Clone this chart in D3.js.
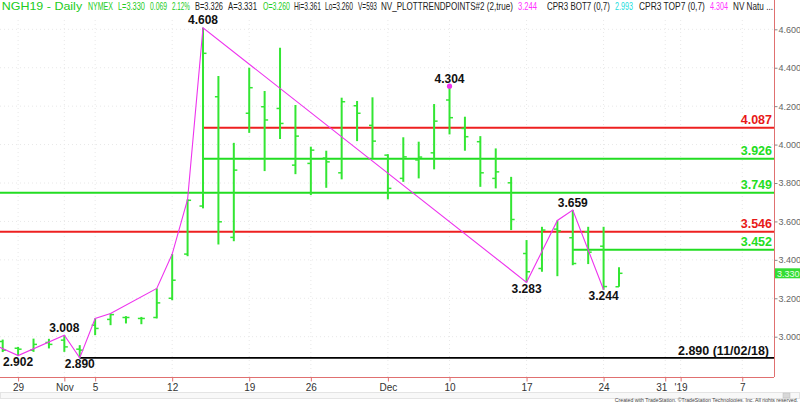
<!DOCTYPE html>
<html><head><meta charset="utf-8">
<script src="https://cdn.jsdelivr.net/npm/d3@7"></script>
<style>html,body{margin:0;padding:0;background:#fff;} svg{display:block;font-family:"Liberation Sans",Arial,sans-serif;}</style>
</head><body><svg id="c" width="800" height="402"></svg>
<script>
// ---- data ----
const dates = ["10/26","10/29","10/30","10/31","11/01","11/02","11/05","11/06","11/07","11/08","11/09",
  "11/12","11/13","11/14","11/15","11/16","11/19","11/20","11/21","11/23","11/26","11/27","11/28","11/29","11/30",
  "12/03","12/04","12/06","12/07","12/10","12/11","12/12","12/13","12/14","12/17","12/18","12/19","12/20","12/21","12/24","12/26"];
const openP  = [2.975,2.940,2.930,2.970,2.982,2.935,3.060,3.090,3.100,3.095,3.100,3.200,3.430,3.680,4.249,3.517,4.163,4.197,4.188,3.893,3.902,3.930,3.853,4.202,4.100,3.945,3.824,3.920,3.957,4.232,4.084,4.015,3.824,3.801,3.433,3.355,3.560,3.515,3.546,3.471,3.260];
const highP  = [2.985,2.947,2.990,2.989,3.008,2.956,3.095,3.121,3.107,3.103,3.251,3.430,3.715,4.608,4.357,4.009,4.400,4.279,4.504,4.206,3.989,3.968,4.244,4.227,4.246,3.950,4.038,4.015,4.211,4.304,4.145,4.044,3.980,3.832,3.503,3.572,3.605,3.659,3.572,3.572,3.361];
const lowP   = [2.920,2.902,2.921,2.939,2.921,2.890,3.008,3.060,3.069,3.065,3.095,3.190,3.419,3.668,3.480,3.497,4.061,3.862,4.029,3.846,3.737,3.775,3.819,4.018,3.928,3.715,3.806,3.824,3.871,4.053,3.968,3.780,3.772,3.555,3.283,3.338,3.315,3.372,3.378,3.244,3.260];
const closeP = [2.930,2.935,2.960,2.960,2.947,2.930,3.043,3.115,3.100,3.095,3.176,3.294,3.710,4.475,3.598,3.867,4.296,4.128,4.110,4.044,3.971,3.910,4.223,4.163,4.018,3.772,3.936,3.935,4.122,4.140,4.041,3.853,3.858,3.610,3.338,3.555,3.551,3.381,3.440,3.261,3.330];

// x-axis ticks (trading-day index incl. future days)
const tickIndex  = [1,4,6,11,16,20,25,29,34,39,43,44,48];
const tickLabels = ["29","Nov","5","12","19","26","Dec","10","17","24","31","'19","7"];
const priceTicks = [3.0,3.2,3.4,3.6,3.8,4.0,4.2,4.4,4.6];

// trend zigzag pivots
const pivotIndex = [-1,1,4,5,6,7,10,11,12,13,34,36,37,39];
const pivotValue = [2.975,2.902,3.008,2.890,3.095,3.121,3.251,3.430,3.715,4.608,3.283,3.605,3.659,3.244];

// labelled pivots
const labelIndex = [1,4,5,13,29,34,37,39];
const labelValue = [2.902,3.008,2.890,4.608,4.304,3.283,3.659,3.244];
const labelSide  = ["below","above","below","above","above","below","above","below"];

// horizontal levels
const levelValue = [4.087,3.926,3.749,3.546,3.452];
const levelKind  = ["pivot","retrace","retrace","pivot","retrace"];
const levelStart = [13,13,-1,-1,37];
const lowLevelValue = 2.890, lowLevelStart = 5, lowLevelDate = "(11/02/18)";
const lastPrice = 3.330;

// header segments
const headerText = ["NGH19 - Daily","NYMEX","L=3.330","0.069","2.12%","B=3.326","A=3.331","O=3.260","Hi=3.361","Lo=3.260","V=593",
  "NV_PLOTTRENDPOINTS#2 (2,true)","3.244","CPR3 BOT7 (0,7)","2.993","CPR3 TOP7 (0,7)","4.304","NV Natu ..."];
const headerKind = ["up","up","up","up","up","n","n","up","n","n","n","n","mag","n","cyan","n","mag","n"];
const headerSpan = [[1.7,82.7],[88,113],[118,145],[150,167],[172,190],[195,223],[228,257],[263,290],[294,321],[325,353],[358,377],
  [381,513],[518,537],[547,610],[615,633],[639,705],[710,728],[733,773]];

// ---- drawing ----
const svg = d3.select("#c");
const plotR = 774, plotB = 377;
const x = d3.scaleLinear().domain([0,40]).range([2.7,619]);
const y = d3.scaleLinear().domain([3.0,4.6]).range([336.7,29.3]);
const GREEN = "#33e633", RED = "#ee2020", MAG = "#ee33ee";
const kindColor = {pivot:RED, retrace:"#22dd22"};
const hdrColor = {up:"#22cc22", n:"#222", mag:"#ff33ff", cyan:"#22dddd"};

svg.append("rect").attr("width",800).attr("height",402).attr("fill","#fff");
svg.append("defs").append("clipPath").attr("id","pc").append("rect").attr("x",0).attr("y",0).attr("width",plotR).attr("height",plotB);

// faint grid
const grid = svg.append("g").attr("clip-path","url(#pc)");
grid.selectAll("line.h").data(priceTicks).join("line")
  .attr("x1",0).attr("x2",plotR).attr("y1",d=>y(d)).attr("y2",d=>y(d))
  .attr("stroke","#e8e8e8").attr("stroke-dasharray","1,3");
grid.selectAll("line.v").data(tickIndex).join("line")
  .attr("y1",20).attr("y2",plotB).attr("x1",d=>x(d)).attr("x2",d=>x(d))
  .attr("stroke","#e8e8e8").attr("stroke-dasharray","1,3");

const g = svg.append("g").attr("clip-path","url(#pc)");

// levels
const levels = levelValue.map((v,i)=>({v,kind:levelKind[i],s:levelStart[i]}));
g.selectAll("line.lv").data(levels).join("line")
  .attr("x1",d=>Math.max(0,x(d.s))).attr("x2",plotR)
  .attr("y1",d=>y(d.v)).attr("y2",d=>y(d.v))
  .attr("stroke",d=>kindColor[d.kind]).attr("stroke-width",2);
g.append("line").attr("x1",x(lowLevelStart)).attr("x2",plotR)
  .attr("y1",y(lowLevelValue)).attr("y2",y(lowLevelValue)).attr("stroke","#000").attr("stroke-width",1.6);

// bars
const bars = dates.map((d,i)=>({i,o:openP[i],h:highP[i],l:lowP[i],c:closeP[i]}));
const bg = g.append("g").attr("stroke",GREEN);
bg.selectAll("line.hl").data(bars).join("line")
  .attr("x1",d=>x(d.i)).attr("x2",d=>x(d.i)).attr("y1",d=>y(d.h)).attr("y2",d=>y(d.l)).attr("stroke-width",2);
bg.selectAll("line.o").data(bars).join("line")
  .attr("x1",d=>x(d.i)-3.5).attr("x2",d=>x(d.i)).attr("y1",d=>y(d.o)).attr("y2",d=>y(d.o)).attr("stroke-width",1.5);
bg.selectAll("line.c").data(bars).join("line")
  .attr("x1",d=>x(d.i)).attr("x2",d=>x(d.i)+3.5).attr("y1",d=>y(d.c)).attr("y2",d=>y(d.c)).attr("stroke-width",1.5);

// zigzag
const piv = pivotIndex.map((p,i)=>[p,pivotValue[i]]);
g.append("path").datum(piv).attr("fill","none").attr("stroke",MAG).attr("stroke-width",1.1)
  .attr("d",d3.line().x(d=>x(d[0])).y(d=>y(d[1])));
g.append("circle").attr("cx",x(29)).attr("cy",y(4.304)).attr("r",2.6).attr("fill",MAG);

// pivot labels
const labs = labelIndex.map((p,i)=>({p,v:labelValue[i],s:labelSide[i]}));
svg.selectAll("text.pl").data(labs).join("text")
  .attr("x",d=>x(d.p)).attr("y",d=>d.s==="above"? y(d.v)-3.5 : y(d.v)+10.5)
  .attr("text-anchor","middle").attr("font-size",12).attr("font-weight","bold").attr("fill","#111")
  .text(d=>d.v.toFixed(3));

// level labels
svg.selectAll("text.ll").data(levels).join("text")
  .attr("x",772).attr("y",d=>y(d.v)-4).attr("text-anchor","end")
  .attr("font-size",12.5).attr("font-weight","bold").attr("fill",d=>kindColor[d.kind]==RED?"#e81818":"#22dd22")
  .text(d=>d.v.toFixed(3));
svg.append("text").attr("x",769).attr("y",y(lowLevelValue)-2.5).attr("text-anchor","end")
  .attr("font-size",12.5).attr("font-weight","bold").attr("fill","#111")
  .text(lowLevelValue.toFixed(3)+" "+lowLevelDate);

// frame
svg.append("line").attr("x1",plotR+0.5).attr("x2",plotR+0.5).attr("y1",0).attr("y2",plotB).attr("stroke","#e07070");
svg.append("line").attr("x1",0).attr("x2",plotR).attr("y1",plotB+0.5).attr("y2",plotB+0.5).attr("stroke","#e07070");

// y axis
const ya = svg.append("g").attr("transform",`translate(${plotR+0.5},0)`)
  .call(d3.axisRight(y).tickValues(priceTicks).tickFormat(d3.format(".3f")).tickSize(3).tickPadding(1));
ya.select(".domain").remove();
ya.selectAll("line").attr("stroke","#888");
ya.selectAll("text").attr("font-size",9).attr("fill","#666").attr("font-family","Liberation Sans, Arial, sans-serif");

// last price box
svg.append("rect").attr("x",775).attr("y",y(lastPrice)-5).attr("width",25).attr("height",10).attr("fill","#33dd33");
svg.append("text").attr("x",777).attr("y",y(lastPrice)+3.5).attr("font-size",9).attr("fill","#eaffea").text(lastPrice.toFixed(3));

// x axis
const xa = svg.append("g").attr("transform",`translate(0,${plotB+0.5})`)
  .call(d3.axisBottom(x).tickValues(tickIndex).tickFormat((d,i)=>tickLabels[i]).tickSize(4).tickPadding(2));
xa.select(".domain").remove();
xa.selectAll("line").attr("stroke","#e07070");
xa.selectAll("text").attr("font-size",10).attr("fill","#333").attr("font-family","Liberation Sans, Arial, sans-serif")
  .attr("dx",(d,i)=>tickLabels[i]==="31"?-4:0);

// header: uniform font, each segment scaled horizontally to its span
svg.selectAll("text.hd").data(headerText).join("text")
  .attr("class","hd")
  .attr("x",0).attr("y",0)
  .attr("font-size",10).attr("fill",(d,i)=>hdrColor[headerKind[i]]).text(d=>d)
  .each(function(d,i){
    const span = headerSpan[i][1]-headerSpan[i][0];
    const w = this.getComputedTextLength();
    const sx = Math.min(1.25, span/w);
    d3.select(this).attr("transform",`translate(${headerSpan[i][0]},9.5) scale(${sx},1)`);
  });

// scrollbar + footer
svg.append("rect").attr("x",0.5).attr("y",392.5).attr("width",799).attr("height",6).attr("fill","#f8f8f8").attr("stroke","#e4e4e4");
svg.append("rect").attr("x",783).attr("y",393).attr("width",7).attr("height",5).attr("fill","#d8d8d8").attr("stroke","#bbb").attr("stroke-width",0.5);
svg.append("text").attr("x",798).attr("y",401.5).attr("text-anchor","end").attr("font-size",5.2).attr("fill","#444")
  .text("Created with TradeStation. ©TradeStation Technologies, Inc. All rights reserved.");
</script></body></html>
